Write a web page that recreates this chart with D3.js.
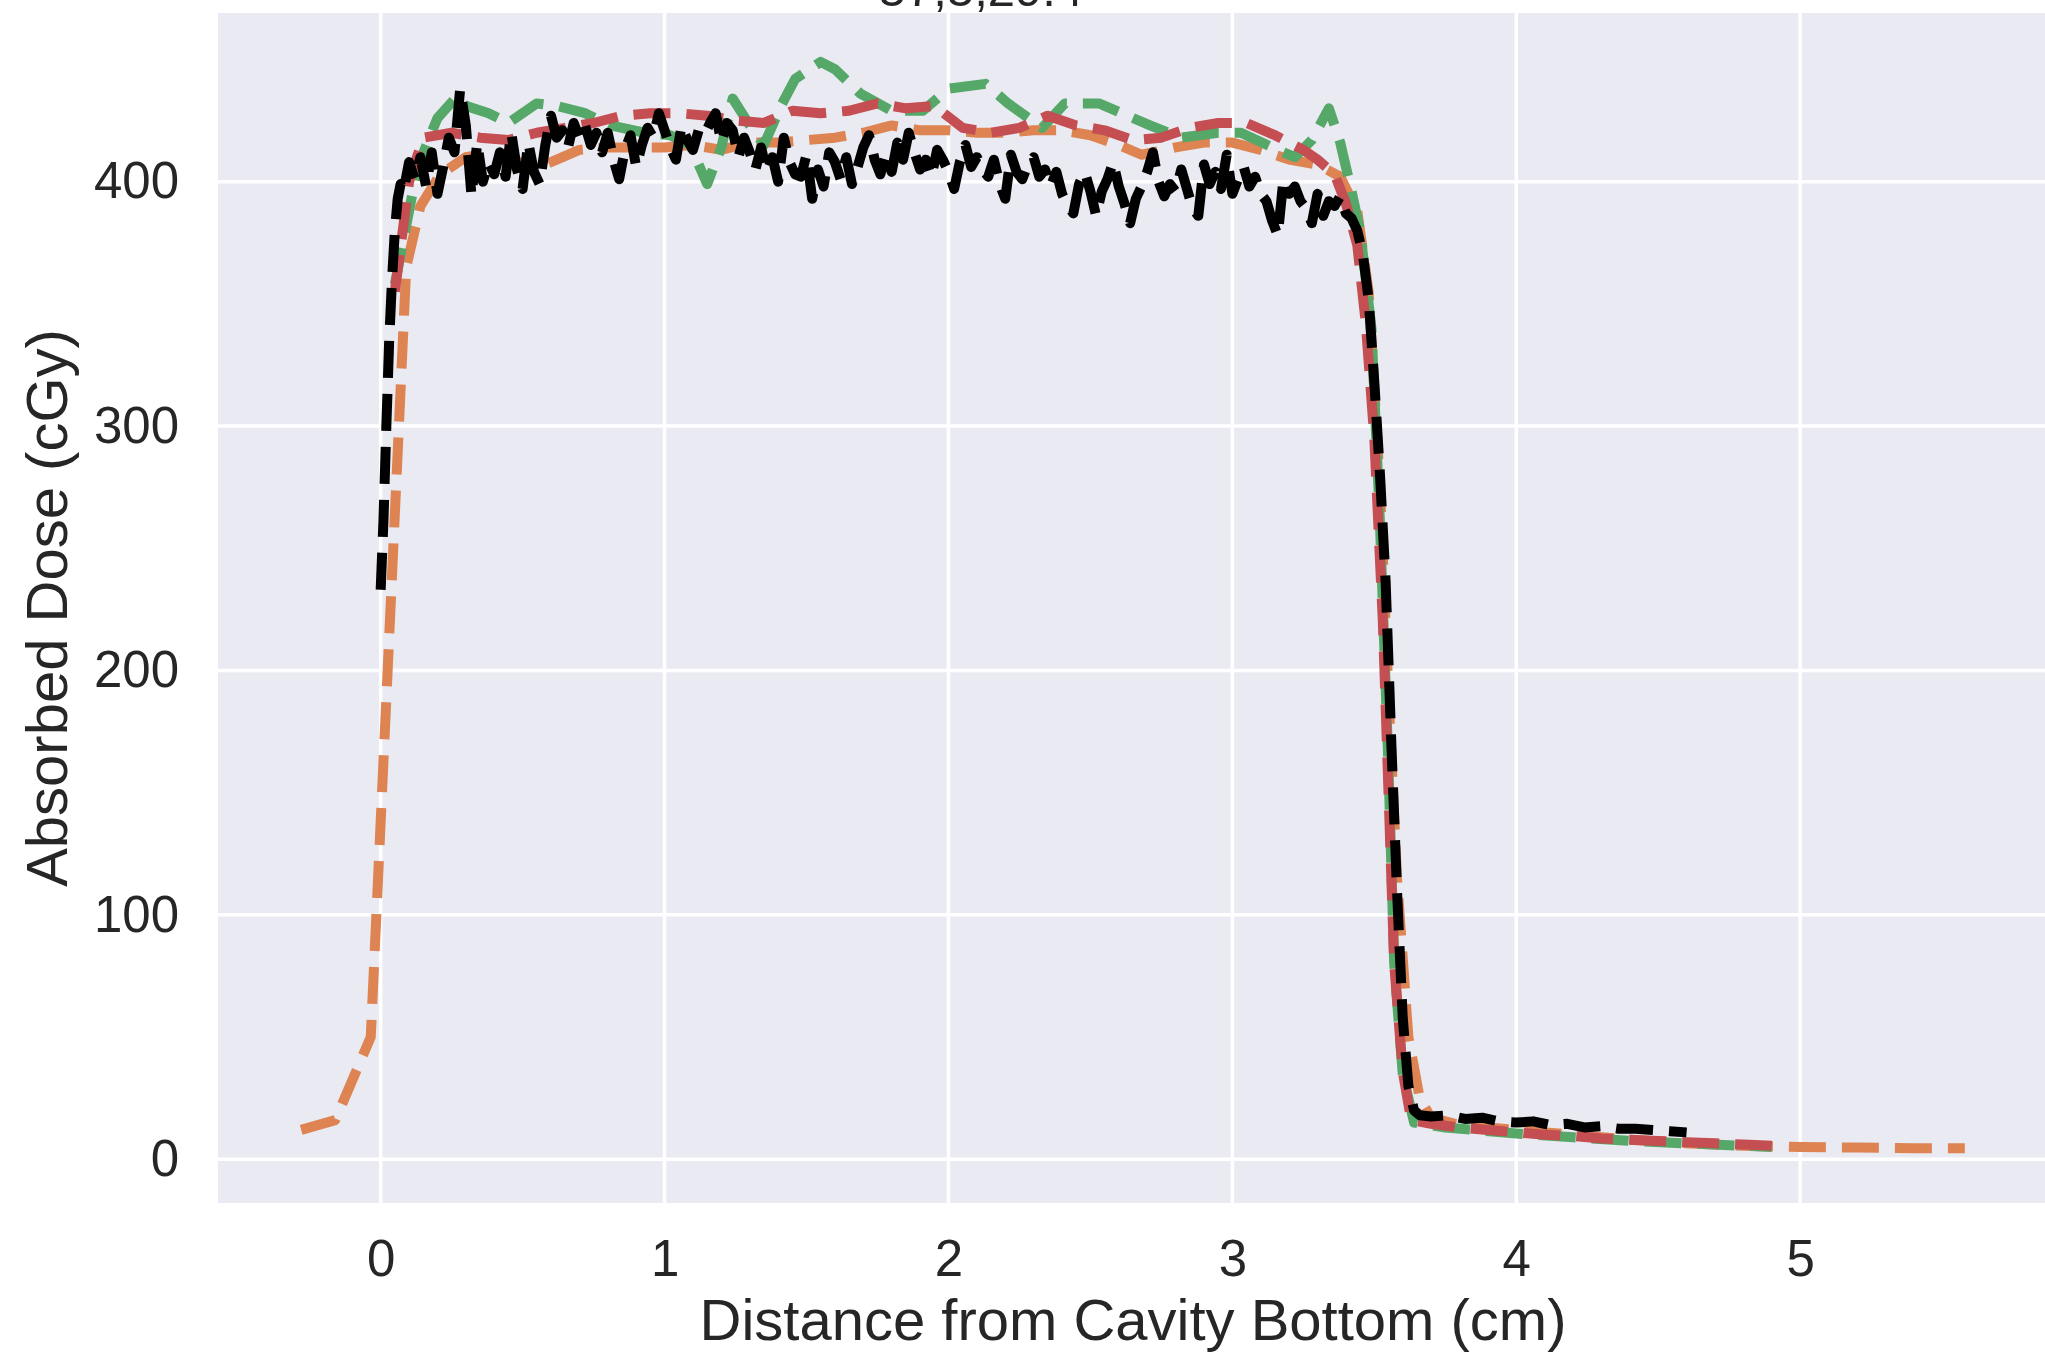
<!DOCTYPE html>
<html><head><meta charset="utf-8">
<script src="https://cdn.jsdelivr.net/npm/d3@7"></script>
<style>
body{margin:0;background:#fff}
svg{display:block}
text{font-family:"Liberation Sans",Arial,sans-serif;fill:#262626}
</style>
</head><body><svg id="chart" width="2045" height="1353"></svg>
<script>
// ---- data ----
const xTicks = [0, 1, 2, 3, 4, 5];
const yTicks = [0, 100, 200, 300, 400];
const titleText = "57,5,29.4";
const xLabel = "Distance from Cavity Bottom (cm)";
const yLabel = "Absorbed Dose (cGy)";

const seriesNames = ["orange", "green", "red", "black"];
const seriesColors = ["#DD8452", "#55A868", "#C44E52", "#000000"];

const orangeData = [[-0.28,12],[-0.16,16],[-0.035,50],[0.09,365],[0.14,390],[0.21,403],[0.30,410],[0.40,412],[0.48,408],[0.58,407],[0.70,413],[0.80,414],[0.90,414],[1.00,414],[1.10,415],[1.20,413],[1.30,416],[1.40,416],[1.50,417],[1.60,418],[1.70,420],[1.80,423],[1.90,421],[2.00,421],[2.10,420],[2.20,420],[2.30,421],[2.40,421],[2.50,419],[2.60,415],[2.68,411],[2.80,414],[2.90,416],[3.00,416],[3.10,413],[3.20,409],[3.30,407],[3.38,402],[3.44,388],[3.48,355],[3.52,275],[3.55,190],[3.58,115],[3.62,50],[3.66,25],[3.70,17],[3.80,14],[3.90,13],[4.00,12],[4.20,10],[4.40,8],[4.60,6.5],[4.80,5.5],[5.00,5],[5.20,4.8],[5.40,4.5],[5.58,4.5]];

const greenData = [[0.05,358],[0.10,388],[0.13,406],[0.20,426],[0.27,435],[0.30,431],[0.38,428],[0.45,424],[0.55,432],[0.62,431],[0.72,428],[0.81,423],[0.93,420],[1.02,419],[1.09,415],[1.15,399],[1.20,414],[1.24,434],[1.30,423],[1.35,415],[1.41,431],[1.46,442],[1.55,449],[1.60,446],[1.69,436],[1.80,429],[1.91,429],[2.00,438],[2.13,440],[2.21,432],[2.33,422],[2.41,432],[2.53,432],[2.63,427],[2.71,423],[2.82,418],[2.95,420],[3.03,420],[3.16,413],[3.22,410],[3.28,417],[3.34,430],[3.38,416],[3.42,396],[3.45,380],[3.49,340],[3.52,260],[3.55,160],[3.57,80],[3.60,35],[3.64,15],[3.75,13],[3.85,12],[4.00,10.5],[4.20,9],[4.40,7.5],[4.60,6.5],[4.80,5.5],[4.90,5]];

const redData = [[0.05,355],[0.10,400],[0.15,418],[0.25,420],[0.35,418],[0.45,417],[0.55,420],[0.65,422],[0.75,424],[0.85,427],[0.95,428],[1.05,428],[1.15,427],[1.25,425],[1.35,424],[1.45,429],[1.55,428],[1.65,429],[1.75,432],[1.85,430],[1.95,431],[2.05,422],[2.15,420],[2.25,422],[2.35,427],[2.45,423],[2.55,421],[2.65,417],[2.75,418],[2.85,422],[2.95,424],[3.05,424],[3.15,419],[3.25,413],[3.30,409],[3.36,403],[3.40,391],[3.44,374],[3.47,342],[3.50,295],[3.53,220],[3.55,150],[3.57,80],[3.60,36],[3.63,16],[3.70,14.5],[3.80,13],[3.90,12],[4.00,11],[4.10,10],[4.20,9.5],[4.30,8.5],[4.40,8],[4.50,7.5],[4.60,7],[4.70,6.5],[4.80,6],[4.90,5.5]];

const blackData = [[0.00,233],[0.01,262],[0.02,300],[0.03,335],[0.04,360],[0.05,380],[0.06,393],[0.07,399],[0.08,396],
[0.10,408],[0.12,401],[0.14,410],[0.16,398],[0.18,412],[0.20,395],[0.22,406],[0.24,418],[0.26,412],[0.28,438],[0.30,423],
[0.32,394],[0.34,416],[0.36,400],[0.38,408],[0.40,403],[0.42,412],[0.44,402],[0.46,420],[0.48,405],[0.50,397],
[0.52,416],[0.54,404],[0.56,399],[0.58,415],[0.60,427],[0.62,418],[0.64,421],[0.66,414],[0.68,424],[0.70,418],
[0.72,423],[0.74,415],[0.76,420],[0.78,412],[0.80,420],[0.82,409],[0.84,401],[0.86,413],[0.88,419],[0.90,406],
[0.92,415],[0.94,422],[0.96,418],[0.98,428],[1.00,421],[1.02,414],[1.04,409],[1.06,423],[1.08,417],[1.10,413],
[1.12,421],[1.14,419],[1.16,424],[1.18,428],[1.20,416],[1.22,424],[1.24,421],[1.26,410],[1.28,418],[1.30,412],
[1.32,405],[1.34,414],[1.36,404],[1.38,410],[1.40,400],[1.42,418],[1.44,408],[1.46,403],[1.48,402],[1.50,411],
[1.52,393],[1.54,405],[1.56,398],[1.58,412],[1.60,408],[1.62,401],[1.64,410],[1.66,399],[1.68,406],[1.70,414],
[1.72,419],[1.74,409],[1.76,403],[1.78,411],[1.80,404],[1.82,416],[1.84,409],[1.86,420],[1.88,412],[1.90,405],
[1.92,409],[1.94,402],[1.96,413],[1.98,409],[2.00,404],[2.02,397],[2.04,408],[2.06,415],[2.08,406],[2.10,410],
[2.12,405],[2.14,402],[2.16,409],[2.18,399],[2.20,393],[2.22,411],[2.24,404],[2.26,401],[2.28,407],[2.30,410],
[2.32,402],[2.34,405],[2.36,398],[2.38,404],[2.40,395],[2.42,390],[2.44,387],[2.46,399],[2.48,404],[2.50,396],
[2.52,386],[2.54,396],[2.56,401],[2.58,408],[2.60,398],[2.62,391],[2.64,383],[2.66,393],[2.68,398],[2.70,404],
[2.72,412],[2.74,400],[2.76,394],[2.78,399],[2.80,396],[2.82,405],[2.84,397],[2.86,389],[2.88,386],[2.90,407],
[2.92,399],[2.94,404],[2.96,397],[2.98,411],[3.00,395],[3.02,401],[3.04,406],[3.06,398],[3.08,402],[3.10,395],
[3.12,392],[3.14,384],[3.16,378],[3.18,401],[3.20,395],[3.22,398],[3.24,392],[3.26,389],[3.28,383],[3.30,395],
[3.32,386],[3.34,392],[3.36,390],[3.38,394],[3.40,387],[3.42,385],[3.44,380],[3.46,370],[3.48,352],[3.50,318],
[3.52,280],[3.54,236],[3.56,170],[3.58,110],[3.60,58],[3.62,30],[3.64,20],[3.66,18],
[3.70,17.5],[3.76,18],[3.82,16.5],[3.88,17],[3.94,15.5],[4.00,15],[4.06,15.5],[4.12,14],[4.18,14.5],[4.24,13],
[4.30,13.5],[4.36,12.5],[4.42,12.5],[4.48,12],[4.54,11.5],[4.60,11]];

const seriesData = [orangeData, greenData, redData, blackData];

// ---- layout ----
const plot = {left: 218, right: 2048, top: 13, bottom: 1203};
const svg = d3.select("#chart");
svg.append("rect").attr("width", 2045).attr("height", 1353).attr("fill", "#ffffff");

const x = d3.scaleLinear().domain([-0.573, 5.873]).range([plot.left, plot.right]);
const y = d3.scaleLinear().domain([-17.9, 469]).range([plot.bottom, plot.top]);

svg.append("rect")
  .attr("x", plot.left).attr("y", plot.top)
  .attr("width", plot.right - plot.left).attr("height", plot.bottom - plot.top)
  .attr("fill", "#EAEAF2");

// grid
const grid = svg.append("g");
grid.selectAll("line.vx").data(xTicks).join("line")
  .attr("x1", d => x(d)).attr("x2", d => x(d))
  .attr("y1", plot.top).attr("y2", plot.bottom)
  .attr("stroke", "#ffffff").attr("stroke-width", 3.5);
grid.selectAll("line.hy").data(yTicks).join("line")
  .attr("y1", d => y(d)).attr("y2", d => y(d))
  .attr("x1", plot.left).attr("x2", plot.right)
  .attr("stroke", "#ffffff").attr("stroke-width", 3.5);

// axes (labels only)
const xAxis = svg.append("g").attr("transform", `translate(0,${plot.bottom})`)
  .call(d3.axisBottom(x).tickValues(xTicks).tickSize(0).tickPadding(37).tickFormat(d3.format("d")));
const yAxis = svg.append("g").attr("transform", `translate(${plot.left},0)`)
  .call(d3.axisLeft(y).tickValues(yTicks).tickSize(0).tickPadding(39).tickFormat(d3.format("d")));
[xAxis, yAxis].forEach(g => {
  g.select(".domain").remove();
  g.selectAll("text").attr("font-size", 51).attr("font-family", '"Liberation Sans", Arial, sans-serif').attr("fill", "#262626");
});

// lines
const line = d3.line().x(d => x(d[0])).y(d => y(d[1]));
const lines = svg.append("g");
seriesData.forEach((data, i) => {
  lines.append("path")
    .datum(data)
    .attr("d", line)
    .attr("fill", "none")
    .attr("stroke", seriesColors[i])
    .attr("stroke-width", 10)
    .attr("stroke-dasharray", "37,16")
    .attr("stroke-linejoin", "round")
    .attr("stroke-linecap", "butt")
    .attr("class", "series-" + seriesNames[i]);
});

// labels
svg.append("text").attr("x", (plot.left + plot.right) / 2).attr("y", 1340)
  .attr("text-anchor", "middle").attr("font-size", 58).text(xLabel);
svg.append("text").attr("transform", "translate(67,608) rotate(-90)")
  .attr("text-anchor", "middle").attr("font-size", 58).text(yLabel);
svg.append("text").attr("x", 981).attr("y", 6)
  .attr("text-anchor", "middle").attr("font-size", 49).text(titleText);
</script>
</body></html>
